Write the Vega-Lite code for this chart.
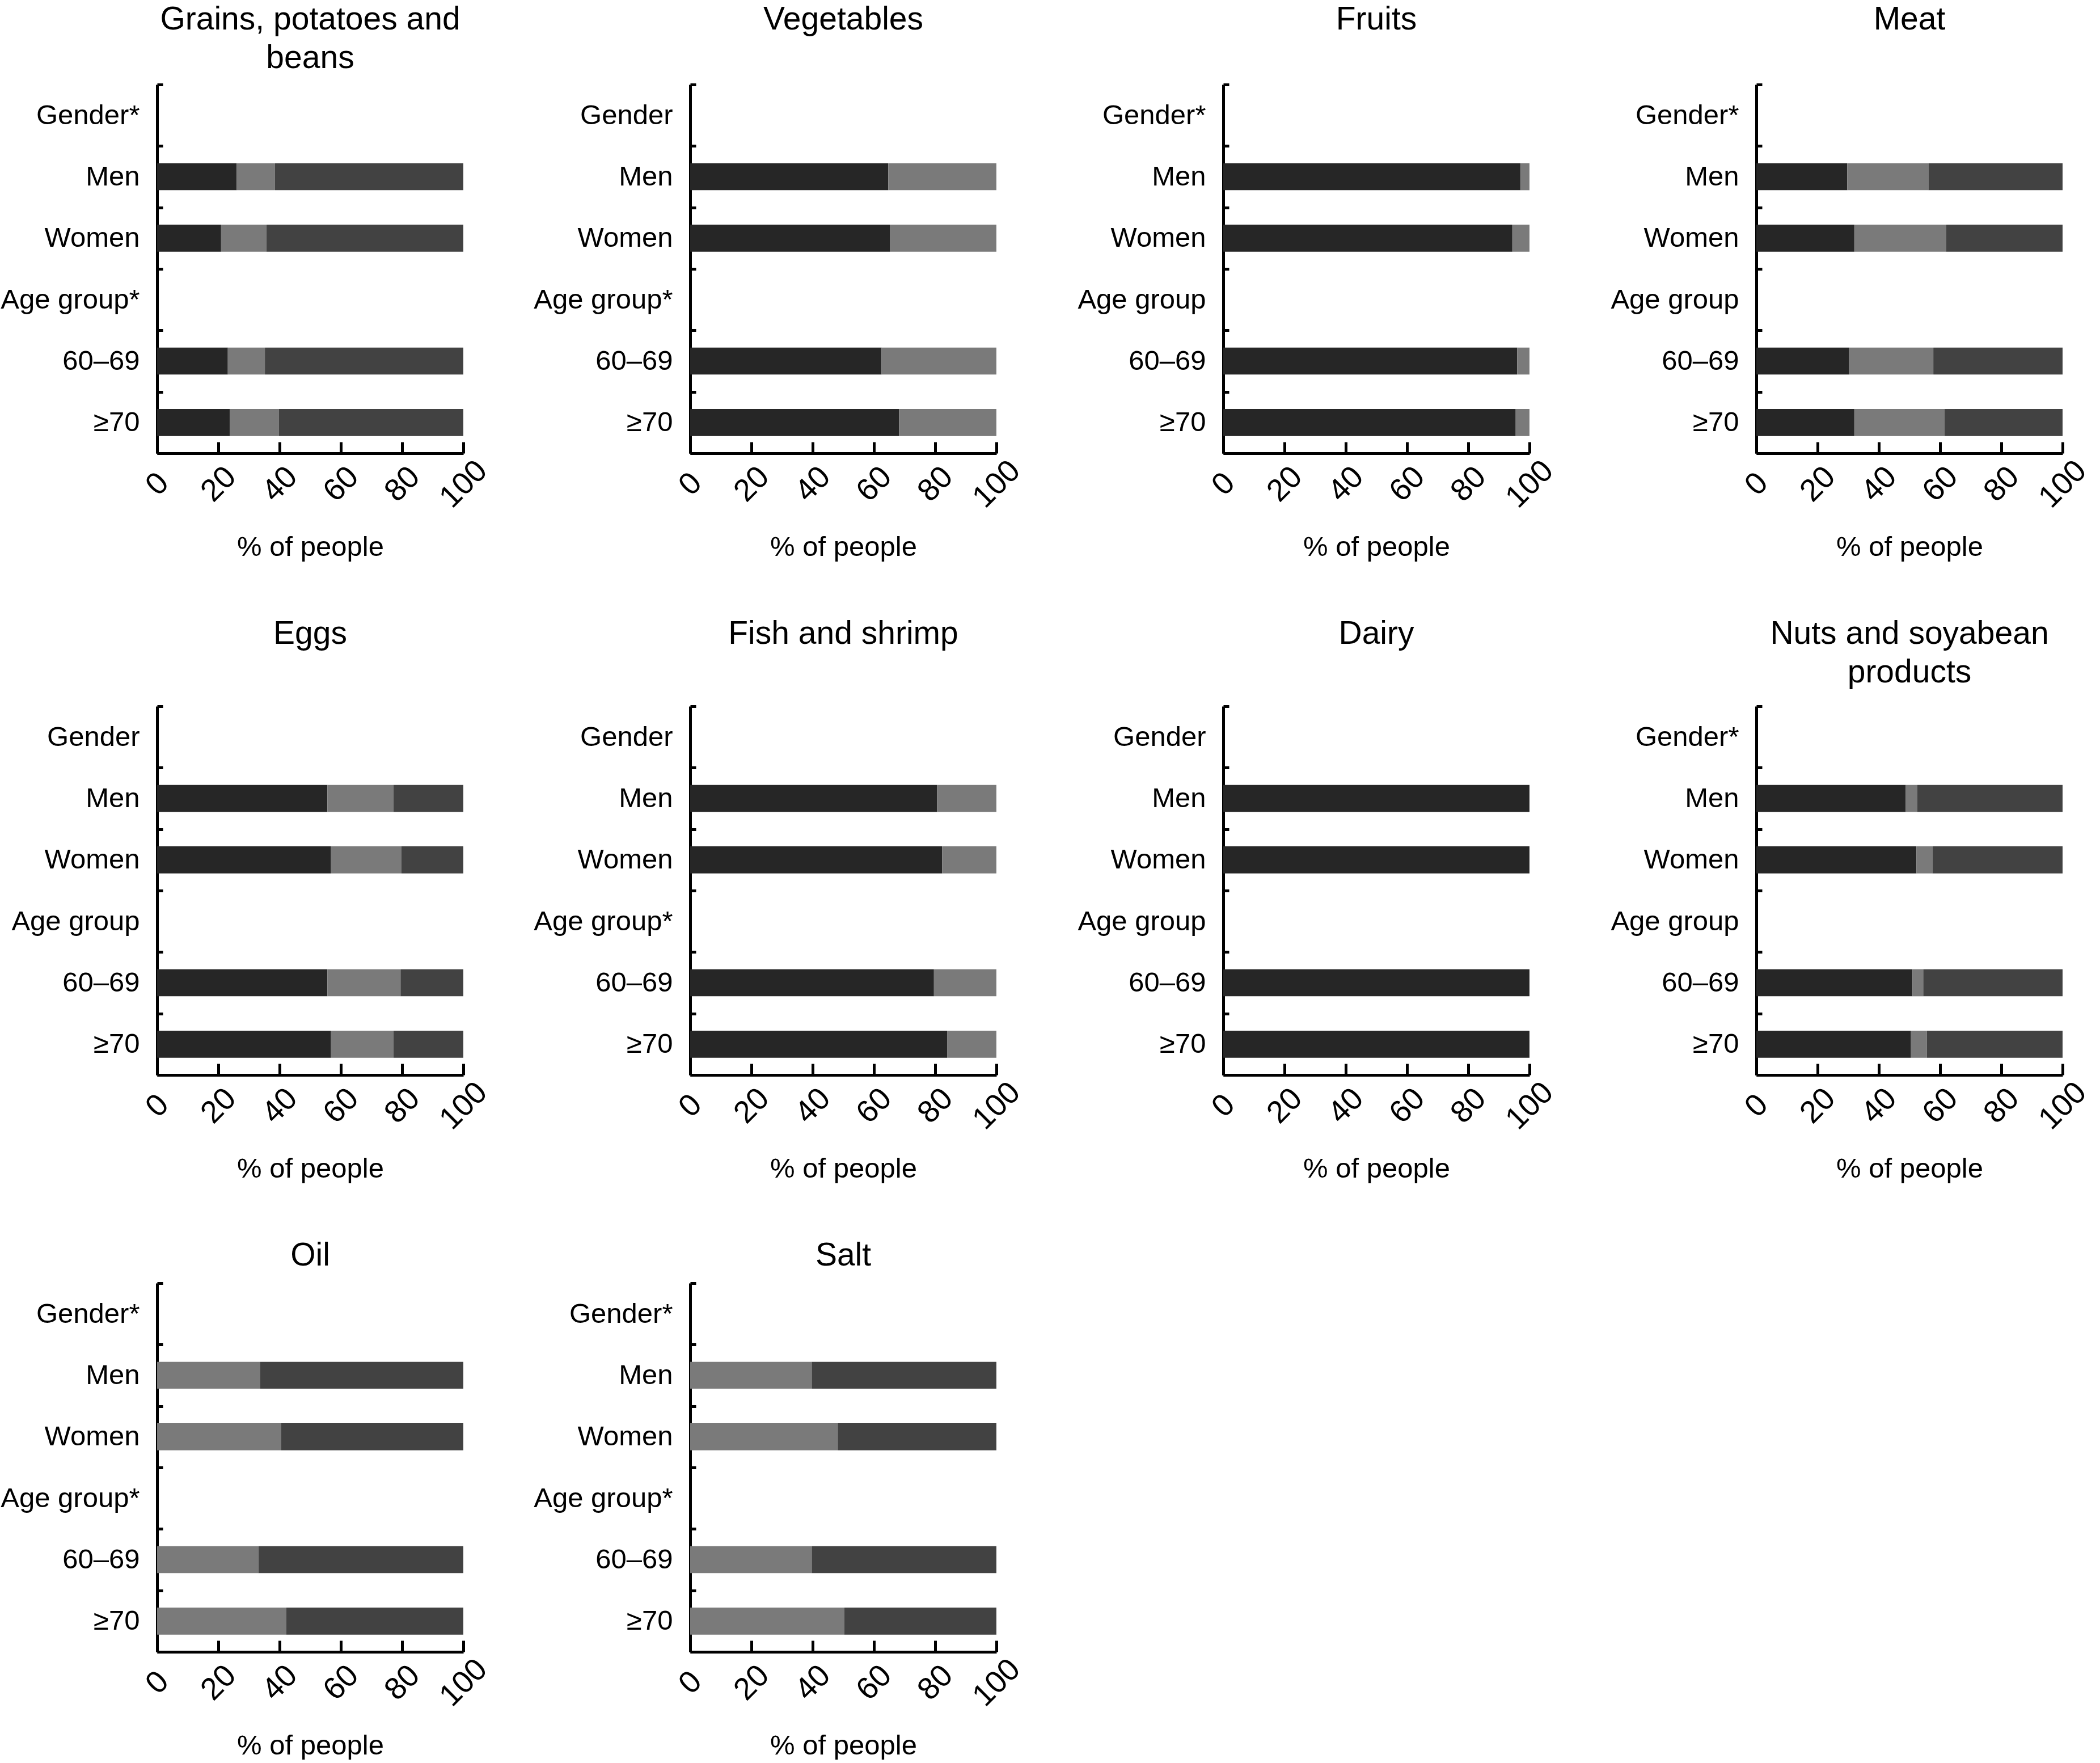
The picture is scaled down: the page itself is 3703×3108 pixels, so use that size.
{
  "$schema": "https://vega.github.io/schema/vega-lite/v6.json",
  "padding": {"top": 6, "left": 0, "right": 0, "bottom": 0},
  "background": "white",
  "datasets": {
    "d": [
      {"food": "Grains", "group": "Men", "level": "Below", "pct": 26.0},
      {"food": "Grains", "group": "Men", "level": "Meets", "pct": 12.5},
      {"food": "Grains", "group": "Men", "level": "Over", "pct": 61.5},
      {"food": "Grains", "group": "Women", "level": "Below", "pct": 20.9},
      {"food": "Grains", "group": "Women", "level": "Meets", "pct": 14.8},
      {"food": "Grains", "group": "Women", "level": "Over", "pct": 64.3},
      {"food": "Grains", "group": "60–69", "level": "Below", "pct": 23.1},
      {"food": "Grains", "group": "60–69", "level": "Meets", "pct": 12.1},
      {"food": "Grains", "group": "60–69", "level": "Over", "pct": 64.8},
      {"food": "Grains", "group": "≥70", "level": "Below", "pct": 23.7},
      {"food": "Grains", "group": "≥70", "level": "Meets", "pct": 16.1},
      {"food": "Grains", "group": "≥70", "level": "Over", "pct": 60.2},
      {"food": "Vegetables", "group": "Men", "level": "Below", "pct": 64.7},
      {"food": "Vegetables", "group": "Men", "level": "Meets", "pct": 35.3},
      {"food": "Vegetables", "group": "Women", "level": "Below", "pct": 65.3},
      {"food": "Vegetables", "group": "Women", "level": "Meets", "pct": 34.7},
      {"food": "Vegetables", "group": "60–69", "level": "Below", "pct": 62.5},
      {"food": "Vegetables", "group": "60–69", "level": "Meets", "pct": 37.5},
      {"food": "Vegetables", "group": "≥70", "level": "Below", "pct": 68.2},
      {"food": "Vegetables", "group": "≥70", "level": "Meets", "pct": 31.8},
      {"food": "Fruits", "group": "Men", "level": "Below", "pct": 97.1},
      {"food": "Fruits", "group": "Men", "level": "Meets", "pct": 2.9},
      {"food": "Fruits", "group": "Women", "level": "Below", "pct": 94.4},
      {"food": "Fruits", "group": "Women", "level": "Meets", "pct": 5.6},
      {"food": "Fruits", "group": "60–69", "level": "Below", "pct": 96.0},
      {"food": "Fruits", "group": "60–69", "level": "Meets", "pct": 4.0},
      {"food": "Fruits", "group": "≥70", "level": "Below", "pct": 95.5},
      {"food": "Fruits", "group": "≥70", "level": "Meets", "pct": 4.5},
      {"food": "Meat", "group": "Men", "level": "Below", "pct": 29.7},
      {"food": "Meat", "group": "Men", "level": "Meets", "pct": 26.5},
      {"food": "Meat", "group": "Men", "level": "Over", "pct": 43.8},
      {"food": "Meat", "group": "Women", "level": "Below", "pct": 32.0},
      {"food": "Meat", "group": "Women", "level": "Meets", "pct": 30.0},
      {"food": "Meat", "group": "Women", "level": "Over", "pct": 38.0},
      {"food": "Meat", "group": "60–69", "level": "Below", "pct": 30.3},
      {"food": "Meat", "group": "60–69", "level": "Meets", "pct": 27.5},
      {"food": "Meat", "group": "60–69", "level": "Over", "pct": 42.2},
      {"food": "Meat", "group": "≥70", "level": "Below", "pct": 32.0},
      {"food": "Meat", "group": "≥70", "level": "Meets", "pct": 29.5},
      {"food": "Meat", "group": "≥70", "level": "Over", "pct": 38.5},
      {"food": "Eggs", "group": "Men", "level": "Below", "pct": 55.6},
      {"food": "Eggs", "group": "Men", "level": "Meets", "pct": 21.6},
      {"food": "Eggs", "group": "Men", "level": "Over", "pct": 22.8},
      {"food": "Eggs", "group": "Women", "level": "Below", "pct": 56.8},
      {"food": "Eggs", "group": "Women", "level": "Meets", "pct": 23.0},
      {"food": "Eggs", "group": "Women", "level": "Over", "pct": 20.2},
      {"food": "Eggs", "group": "60–69", "level": "Below", "pct": 55.6},
      {"food": "Eggs", "group": "60–69", "level": "Meets", "pct": 23.9},
      {"food": "Eggs", "group": "60–69", "level": "Over", "pct": 20.5},
      {"food": "Eggs", "group": "≥70", "level": "Below", "pct": 56.8},
      {"food": "Eggs", "group": "≥70", "level": "Meets", "pct": 20.4},
      {"food": "Eggs", "group": "≥70", "level": "Over", "pct": 22.8},
      {"food": "Fish", "group": "Men", "level": "Below", "pct": 80.6},
      {"food": "Fish", "group": "Men", "level": "Meets", "pct": 19.4},
      {"food": "Fish", "group": "Women", "level": "Below", "pct": 82.3},
      {"food": "Fish", "group": "Women", "level": "Meets", "pct": 17.7},
      {"food": "Fish", "group": "60–69", "level": "Below", "pct": 79.6},
      {"food": "Fish", "group": "60–69", "level": "Meets", "pct": 20.4},
      {"food": "Fish", "group": "≥70", "level": "Below", "pct": 83.9},
      {"food": "Fish", "group": "≥70", "level": "Meets", "pct": 16.1},
      {"food": "Dairy", "group": "Men", "level": "Below", "pct": 100},
      {"food": "Dairy", "group": "Women", "level": "Below", "pct": 100},
      {"food": "Dairy", "group": "60–69", "level": "Below", "pct": 100},
      {"food": "Dairy", "group": "≥70", "level": "Below", "pct": 100},
      {"food": "Nuts", "group": "Men", "level": "Below", "pct": 48.8},
      {"food": "Nuts", "group": "Men", "level": "Meets", "pct": 3.7},
      {"food": "Nuts", "group": "Men", "level": "Over", "pct": 47.5},
      {"food": "Nuts", "group": "Women", "level": "Below", "pct": 52.3},
      {"food": "Nuts", "group": "Women", "level": "Meets", "pct": 5.2},
      {"food": "Nuts", "group": "Women", "level": "Over", "pct": 42.5},
      {"food": "Nuts", "group": "60–69", "level": "Below", "pct": 51.0},
      {"food": "Nuts", "group": "60–69", "level": "Meets", "pct": 3.5},
      {"food": "Nuts", "group": "60–69", "level": "Over", "pct": 45.5},
      {"food": "Nuts", "group": "≥70", "level": "Below", "pct": 50.5},
      {"food": "Nuts", "group": "≥70", "level": "Meets", "pct": 5.2},
      {"food": "Nuts", "group": "≥70", "level": "Over", "pct": 44.3},
      {"food": "Oil", "group": "Men", "level": "Meets", "pct": 33.7},
      {"food": "Oil", "group": "Men", "level": "Over", "pct": 66.3},
      {"food": "Oil", "group": "Women", "level": "Meets", "pct": 40.5},
      {"food": "Oil", "group": "Women", "level": "Over", "pct": 59.5},
      {"food": "Oil", "group": "60–69", "level": "Meets", "pct": 33.1},
      {"food": "Oil", "group": "60–69", "level": "Over", "pct": 66.9},
      {"food": "Oil", "group": "≥70", "level": "Meets", "pct": 42.2},
      {"food": "Oil", "group": "≥70", "level": "Over", "pct": 57.8},
      {"food": "Salt", "group": "Men", "level": "Meets", "pct": 39.7},
      {"food": "Salt", "group": "Men", "level": "Over", "pct": 60.3},
      {"food": "Salt", "group": "Women", "level": "Meets", "pct": 48.2},
      {"food": "Salt", "group": "Women", "level": "Over", "pct": 51.8},
      {"food": "Salt", "group": "60–69", "level": "Meets", "pct": 39.7},
      {"food": "Salt", "group": "60–69", "level": "Over", "pct": 60.3},
      {"food": "Salt", "group": "≥70", "level": "Meets", "pct": 50.3},
      {"food": "Salt", "group": "≥70", "level": "Over", "pct": 49.7}
    ]
  },
  "data": {"name": "d"},
  "spacing": 100,
  "vconcat": [
    {
      "spacing": 400, "bounds": "flush",
      "hconcat": [
        {"width": 540, "height": 650, "title": {"text": ["Grains, potatoes and", "beans"], "offset": -7},
         "transform": [{"filter": "datum.food === 'Grains'"}],
         "mark": {"type": "bar", "height": {"band": 0.44}},
         "encoding": {
           "y": {"field": "group", "type": "nominal", "scale": {"domain": ["Gender*", "Men", "Women", "Age group*", "60–69", "≥70"], "paddingInner": 0, "paddingOuter": 0}, "axis": {"title": null}},
           "x": {"field": "pct", "type": "quantitative", "stack": "zero", "scale": {"domain": [0, 100], "nice": false}, "axis": {"title": "% of people", "values": [0, 20, 40, 60, 80, 100]}},
           "color": {"field": "level", "type": "nominal", "scale": {"domain": ["Below", "Meets", "Over"], "range": ["#262626", "#7a7a7a", "#424242"]}, "legend": null}
         }},
        {"width": 540, "height": 650, "title": {"text": ["Vegetables", " "], "offset": -7},
         "transform": [{"filter": "datum.food === 'Vegetables'"}],
         "mark": {"type": "bar", "height": {"band": 0.44}},
         "encoding": {
           "y": {"field": "group", "type": "nominal", "scale": {"domain": ["Gender", "Men", "Women", "Age group*", "60–69", "≥70"], "paddingInner": 0, "paddingOuter": 0}, "axis": {"title": null}},
           "x": {"field": "pct", "type": "quantitative", "stack": "zero", "scale": {"domain": [0, 100], "nice": false}, "axis": {"title": "% of people", "values": [0, 20, 40, 60, 80, 100]}},
           "color": {"field": "level", "type": "nominal", "scale": {"domain": ["Below", "Meets", "Over"], "range": ["#262626", "#7a7a7a", "#424242"]}, "legend": null}
         }},
        {"width": 540, "height": 650, "title": {"text": ["Fruits", " "], "offset": -7},
         "transform": [{"filter": "datum.food === 'Fruits'"}],
         "mark": {"type": "bar", "height": {"band": 0.44}},
         "encoding": {
           "y": {"field": "group", "type": "nominal", "scale": {"domain": ["Gender*", "Men", "Women", "Age group", "60–69", "≥70"], "paddingInner": 0, "paddingOuter": 0}, "axis": {"title": null}},
           "x": {"field": "pct", "type": "quantitative", "stack": "zero", "scale": {"domain": [0, 100], "nice": false}, "axis": {"title": "% of people", "values": [0, 20, 40, 60, 80, 100]}},
           "color": {"field": "level", "type": "nominal", "scale": {"domain": ["Below", "Meets", "Over"], "range": ["#262626", "#7a7a7a", "#424242"]}, "legend": null}
         }},
        {"width": 540, "height": 650, "title": {"text": ["Meat", " "], "offset": -7},
         "transform": [{"filter": "datum.food === 'Meat'"}],
         "mark": {"type": "bar", "height": {"band": 0.44}},
         "encoding": {
           "y": {"field": "group", "type": "nominal", "scale": {"domain": ["Gender*", "Men", "Women", "Age group", "60–69", "≥70"], "paddingInner": 0, "paddingOuter": 0}, "axis": {"title": null}},
           "x": {"field": "pct", "type": "quantitative", "stack": "zero", "scale": {"domain": [0, 100], "nice": false}, "axis": {"title": "% of people", "values": [0, 20, 40, 60, 80, 100]}},
           "color": {"field": "level", "type": "nominal", "scale": {"domain": ["Below", "Meets", "Over"], "range": ["#262626", "#7a7a7a", "#424242"]}, "legend": null}
         }}
      ]
    },
    {
      "spacing": 400, "bounds": "flush",
      "hconcat": [
        {"width": 540, "height": 650, "title": {"text": ["Eggs", " "], "offset": 6},
         "transform": [{"filter": "datum.food === 'Eggs'"}],
         "mark": {"type": "bar", "height": {"band": 0.44}},
         "encoding": {
           "y": {"field": "group", "type": "nominal", "scale": {"domain": ["Gender", "Men", "Women", "Age group", "60–69", "≥70"], "paddingInner": 0, "paddingOuter": 0}, "axis": {"title": null}},
           "x": {"field": "pct", "type": "quantitative", "stack": "zero", "scale": {"domain": [0, 100], "nice": false}, "axis": {"title": "% of people", "values": [0, 20, 40, 60, 80, 100]}},
           "color": {"field": "level", "type": "nominal", "scale": {"domain": ["Below", "Meets", "Over"], "range": ["#262626", "#7a7a7a", "#424242"]}, "legend": null}
         }},
        {"width": 540, "height": 650, "title": {"text": ["Fish and shrimp", " "], "offset": 6},
         "transform": [{"filter": "datum.food === 'Fish'"}],
         "mark": {"type": "bar", "height": {"band": 0.44}},
         "encoding": {
           "y": {"field": "group", "type": "nominal", "scale": {"domain": ["Gender", "Men", "Women", "Age group*", "60–69", "≥70"], "paddingInner": 0, "paddingOuter": 0}, "axis": {"title": null}},
           "x": {"field": "pct", "type": "quantitative", "stack": "zero", "scale": {"domain": [0, 100], "nice": false}, "axis": {"title": "% of people", "values": [0, 20, 40, 60, 80, 100]}},
           "color": {"field": "level", "type": "nominal", "scale": {"domain": ["Below", "Meets", "Over"], "range": ["#262626", "#7a7a7a", "#424242"]}, "legend": null}
         }},
        {"width": 540, "height": 650, "title": {"text": ["Dairy", " "], "offset": 6},
         "transform": [{"filter": "datum.food === 'Dairy'"}],
         "mark": {"type": "bar", "height": {"band": 0.44}},
         "encoding": {
           "y": {"field": "group", "type": "nominal", "scale": {"domain": ["Gender", "Men", "Women", "Age group", "60–69", "≥70"], "paddingInner": 0, "paddingOuter": 0}, "axis": {"title": null}},
           "x": {"field": "pct", "type": "quantitative", "stack": "zero", "scale": {"domain": [0, 100], "nice": false}, "axis": {"title": "% of people", "values": [0, 20, 40, 60, 80, 100]}},
           "color": {"field": "level", "type": "nominal", "scale": {"domain": ["Below", "Meets", "Over"], "range": ["#262626", "#7a7a7a", "#424242"]}, "legend": null}
         }},
        {"width": 540, "height": 650, "title": {"text": ["Nuts and soyabean", "products"], "offset": 6},
         "transform": [{"filter": "datum.food === 'Nuts'"}],
         "mark": {"type": "bar", "height": {"band": 0.44}},
         "encoding": {
           "y": {"field": "group", "type": "nominal", "scale": {"domain": ["Gender*", "Men", "Women", "Age group", "60–69", "≥70"], "paddingInner": 0, "paddingOuter": 0}, "axis": {"title": null}},
           "x": {"field": "pct", "type": "quantitative", "stack": "zero", "scale": {"domain": [0, 100], "nice": false}, "axis": {"title": "% of people", "values": [0, 20, 40, 60, 80, 100]}},
           "color": {"field": "level", "type": "nominal", "scale": {"domain": ["Below", "Meets", "Over"], "range": ["#262626", "#7a7a7a", "#424242"]}, "legend": null}
         }}
      ]
    },
    {
      "spacing": 400, "bounds": "flush",
      "hconcat": [
        {"width": 540, "height": 650, "title": {"text": ["Oil"], "offset": -5},
         "transform": [{"filter": "datum.food === 'Oil'"}],
         "mark": {"type": "bar", "height": {"band": 0.44}},
         "encoding": {
           "y": {"field": "group", "type": "nominal", "scale": {"domain": ["Gender*", "Men", "Women", "Age group*", "60–69", "≥70"], "paddingInner": 0, "paddingOuter": 0}, "axis": {"title": null}},
           "x": {"field": "pct", "type": "quantitative", "stack": "zero", "scale": {"domain": [0, 100], "nice": false}, "axis": {"title": "% of people", "values": [0, 20, 40, 60, 80, 100]}},
           "color": {"field": "level", "type": "nominal", "scale": {"domain": ["Below", "Meets", "Over"], "range": ["#262626", "#7a7a7a", "#424242"]}, "legend": null}
         }},
        {"width": 540, "height": 650, "title": {"text": ["Salt"], "offset": -5},
         "transform": [{"filter": "datum.food === 'Salt'"}],
         "mark": {"type": "bar", "height": {"band": 0.44}},
         "encoding": {
           "y": {"field": "group", "type": "nominal", "scale": {"domain": ["Gender*", "Men", "Women", "Age group*", "60–69", "≥70"], "paddingInner": 0, "paddingOuter": 0}, "axis": {"title": null}},
           "x": {"field": "pct", "type": "quantitative", "stack": "zero", "scale": {"domain": [0, 100], "nice": false}, "axis": {"title": "% of people", "values": [0, 20, 40, 60, 80, 100]}},
           "color": {"field": "level", "type": "nominal", "scale": {"domain": ["Below", "Meets", "Over"], "range": ["#262626", "#7a7a7a", "#424242"]}, "legend": null}
         }}
      ]
    }
  ],
  "config": {
    "font": "Liberation Sans",
    "view": {"stroke": null},
    "title": {"fontSize": 57, "fontWeight": "normal", "lineHeight": 68, "baseline": "top", "color": "black", "anchor": "middle", "font": "Liberation Sans"},
    "axis": {
      "domainColor": "black", "domainWidth": 5, "tickColor": "black", "tickWidth": 5,
      "labelColor": "black", "titleColor": "black", "grid": false, "zindex": 1,
      "labelFont": "Liberation Sans", "titleFont": "Liberation Sans", "titleFontWeight": "normal",
      "labelOverlap": false, "labelLimit": 400
    },
    "axisX": {
      "tickSize": -20, "labelAngle": -45, "labelAlign": "center", "labelBaseline": "middle",
      "labelPadding": 74, "labelFontSize": 55, "labelFlush": false,
      "titleFontSize": 49, "titleY": 165, "titleBaseline": "middle"
    },
    "axisY": {
      "tickSize": -10, "labelPadding": 41, "labelFontSize": 49, "tickBand": "extent",
      "minExtent": 276, "maxExtent": 276
    }
  }
}
